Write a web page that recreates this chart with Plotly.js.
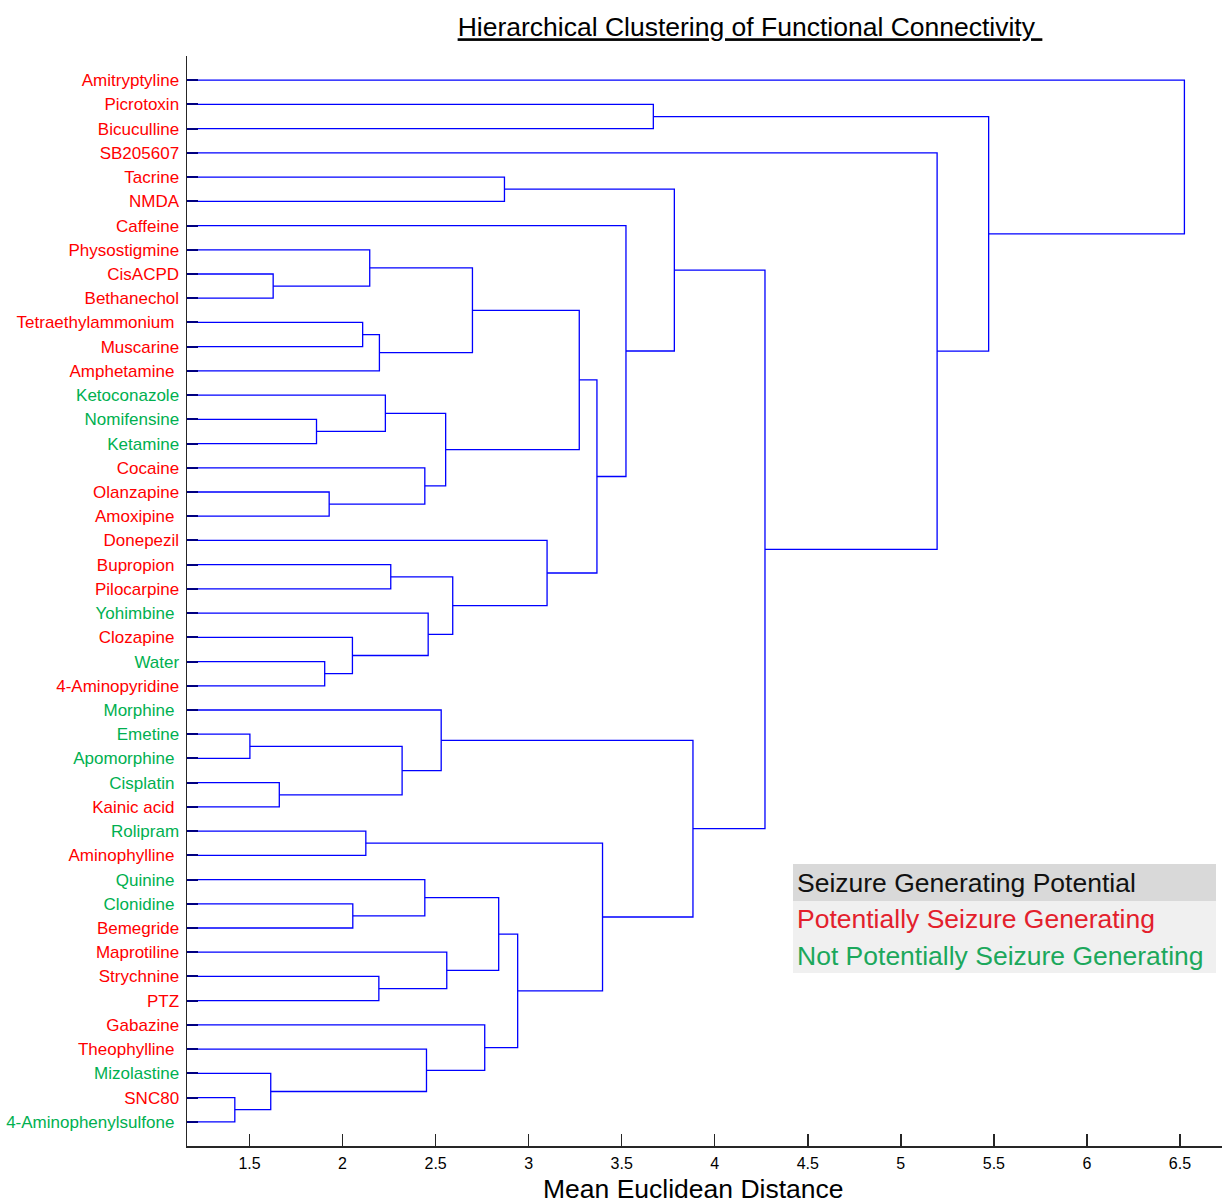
<!DOCTYPE html>
<html><head><meta charset="utf-8">
<script src="https://cdn.plot.ly/plotly-3.0.1.min.js"></script>
<style>html,body{margin:0;padding:0;background:#fff}#chart{width:1224px;height:1204px}</style>
</head><body><div id="chart"></div>
<script>
// Leaves (top to bottom); trailing spaces as in the original labels
const leafNames = ['Amitryptyline','Picrotoxin','Bicuculline','SB205607','Tacrine','NMDA','Caffeine',
  'Physostigmine','CisACPD','Bethanechol','Tetraethylammonium ','Muscarine','Amphetamine ','Ketoconazole',
  'Nomifensine','Ketamine','Cocaine','Olanzapine','Amoxipine ','Donepezil','Bupropion ','Pilocarpine',
  'Yohimbine ','Clozapine ','Water','4-Aminopyridine','Morphine ','Emetine','Apomorphine ','Cisplatin ',
  'Kainic acid ','Rolipram','Aminophylline ','Quinine ','Clonidine ','Bemegride','Maprotiline','Strychnine',
  'PTZ','Gabazine','Theophylline ','Mizolastine','SNC80','4-Aminophenylsulfone '];
// 1 = potentially seizure generating, 0 = not
const leafSeizure = [1,1,1,1,1,1,1,1,1,1,1,1,1,0,0,0,1,1,1,1,1,1,0,1,0,1,0,0,0,0,1,0,1,0,0,1,1,1,1,1,1,0,1,0];
// Linkage: clusters >= 44 refer to earlier merges (44 + merge index)
const mergeLeft   = [42,27,41, 8,29,14,24,17,23,34,10,31, 7,37,54,13,20,45,16,33,40,22,26,59,36,60,56,39,63, 4,72,19,70,76,55, 6, 1,73,66,81, 3,80, 0];
const mergeRight  = [43,28,44, 9,30,15,25,18,50,35,11,32,47,38,12,49,21,48,51,53,46,52,61,62,57,65,58,64,68, 5,71,69,67,75,74,77, 2,79,78,82,83,84,85];
const mergeHeight = [1.421,1.502,1.614,1.627,1.660,1.860,1.904,1.928,2.053,2.055,2.108,2.125,2.146,2.195,2.198,
  2.230,2.259,2.320,2.442,2.442,2.451,2.460,2.530,2.554,2.560,2.592,2.698,2.764,2.839,2.870,2.941,3.099,3.272,
  3.367,3.397,3.523,3.670,3.783,3.883,4.270,5.195,5.472,6.524];
const xTickVals = [1.5,2,2.5,3,3.5,4,4.5,5,5.5,6,6.5];
const chartTitle = 'Hierarchical Clustering of Functional Connectivity ';
const xTitle = 'Mean Euclidean Distance';
const legendTitle = 'Seizure Generating Potential';
const groupLabels = ['Not Potentially Seizure Generating','Potentially Seizure Generating'];

const RED = '#ff0000', GREEN = '#00b050';
const n = leafNames.length;
const pos = [], ht = [];
for (let i = 0; i < n; i++) { pos.push(i + 1); ht.push(0); }
const lx = [], ly = [];
for (let k = 0; k < mergeHeight.length; k++) {
  const a = mergeLeft[k], b = mergeRight[k], h = mergeHeight[k];
  lx.push(ht[a], h, h, ht[b], null);
  ly.push(pos[a], pos[a], pos[b], pos[b], null);
  pos.push((pos[a] + pos[b]) / 2); ht.push(h);
}
const nb = s => s.replace(/ /g, '\u00a0');
const tickText = leafNames.map((s, i) =>
  '<span style="color:' + (leafSeizure[i] ? RED : GREEN) + '">' + nb(s) + '</span>');

const FONT = 'Liberation Sans, Arial, sans-serif';
const L = 187, R = 2, T = 56, B = 58, W = 1224, H = 1204;
const pw = W - L - R, ph = H - T - B;
const px = x => (x - L) / pw, py = y => (H - B - y) / ph;

const layout = {
  width: W, height: H,
  margin: {l: L, r: R, t: T, b: B, pad: 0},
  paper_bgcolor: '#fff', plot_bgcolor: '#fff',
  font: {family: FONT, color: '#000'},
  showlegend: false,
  title: {text: '<u>' + nb(chartTitle) + '</u>', font: {size: 26.5, family: FONT, color: '#000'},
          xref: 'container', yref: 'container', x: 750 / W, xanchor: 'center', y: 1 - 27 / H, yanchor: 'middle'},
  xaxis: {range: [1.164, 6.726], tickvals: xTickVals, ticks: 'inside', ticklen: 12, tickwidth: 1.5,
          tickcolor: '#262626', showline: true, linecolor: '#262626', linewidth: 2, showgrid: false,
          zeroline: false, tickfont: {size: 16, color: '#000', family: FONT}, ticklabelstandoff: 2},
  yaxis: {range: [45, 0], tickvals: leafNames.map((s, i) => i + 1), ticktext: tickText, ticks: 'inside',
          ticklen: 11, tickwidth: 2, tickcolor: '#000080', showline: true, linecolor: '#262626', linewidth: 1.5,
          showgrid: false, zeroline: false, tickfont: {size: 17, family: FONT}, ticklabelstandoff: 3},
  shapes: [
    {type: 'rect', xref: 'paper', yref: 'paper', x0: px(793), x1: px(1216), y0: py(901), y1: py(864),
     fillcolor: '#d9d9d9', line: {width: 0}, layer: 'above'},
    {type: 'rect', xref: 'paper', yref: 'paper', x0: px(793), x1: px(1216), y0: py(973), y1: py(901),
     fillcolor: '#f0f0f0', line: {width: 0}, layer: 'above'}
  ],
  annotations: [
    {text: xTitle, xref: 'paper', yref: 'paper', x: px(693), y: py(1189), xanchor: 'center', yanchor: 'middle',
     showarrow: false, font: {size: 26.5, family: FONT, color: '#000'}},
    {text: legendTitle, xref: 'paper', yref: 'paper', x: px(795), y: py(883), xanchor: 'left', yanchor: 'middle',
     showarrow: false, font: {size: 26.5, family: FONT, color: '#111'}},
    {text: groupLabels[1], xref: 'paper', yref: 'paper', x: px(795), y: py(919), xanchor: 'left', yanchor: 'middle',
     showarrow: false, font: {size: 26.5, family: FONT, color: '#e3202c'}},
    {text: groupLabels[0], xref: 'paper', yref: 'paper', x: px(795), y: py(956), xanchor: 'left', yanchor: 'middle',
     showarrow: false, font: {size: 26.5, family: FONT, color: '#1ca85c'}}
  ]
};

Plotly.newPlot('chart', [{
  type: 'scatter', mode: 'lines', x: lx, y: ly, connectgaps: false,
  line: {color: '#0000ff', width: 1.3}, hoverinfo: 'skip'
}], layout, {displayModeBar: false, staticPlot: true});
</script>
</body></html>
